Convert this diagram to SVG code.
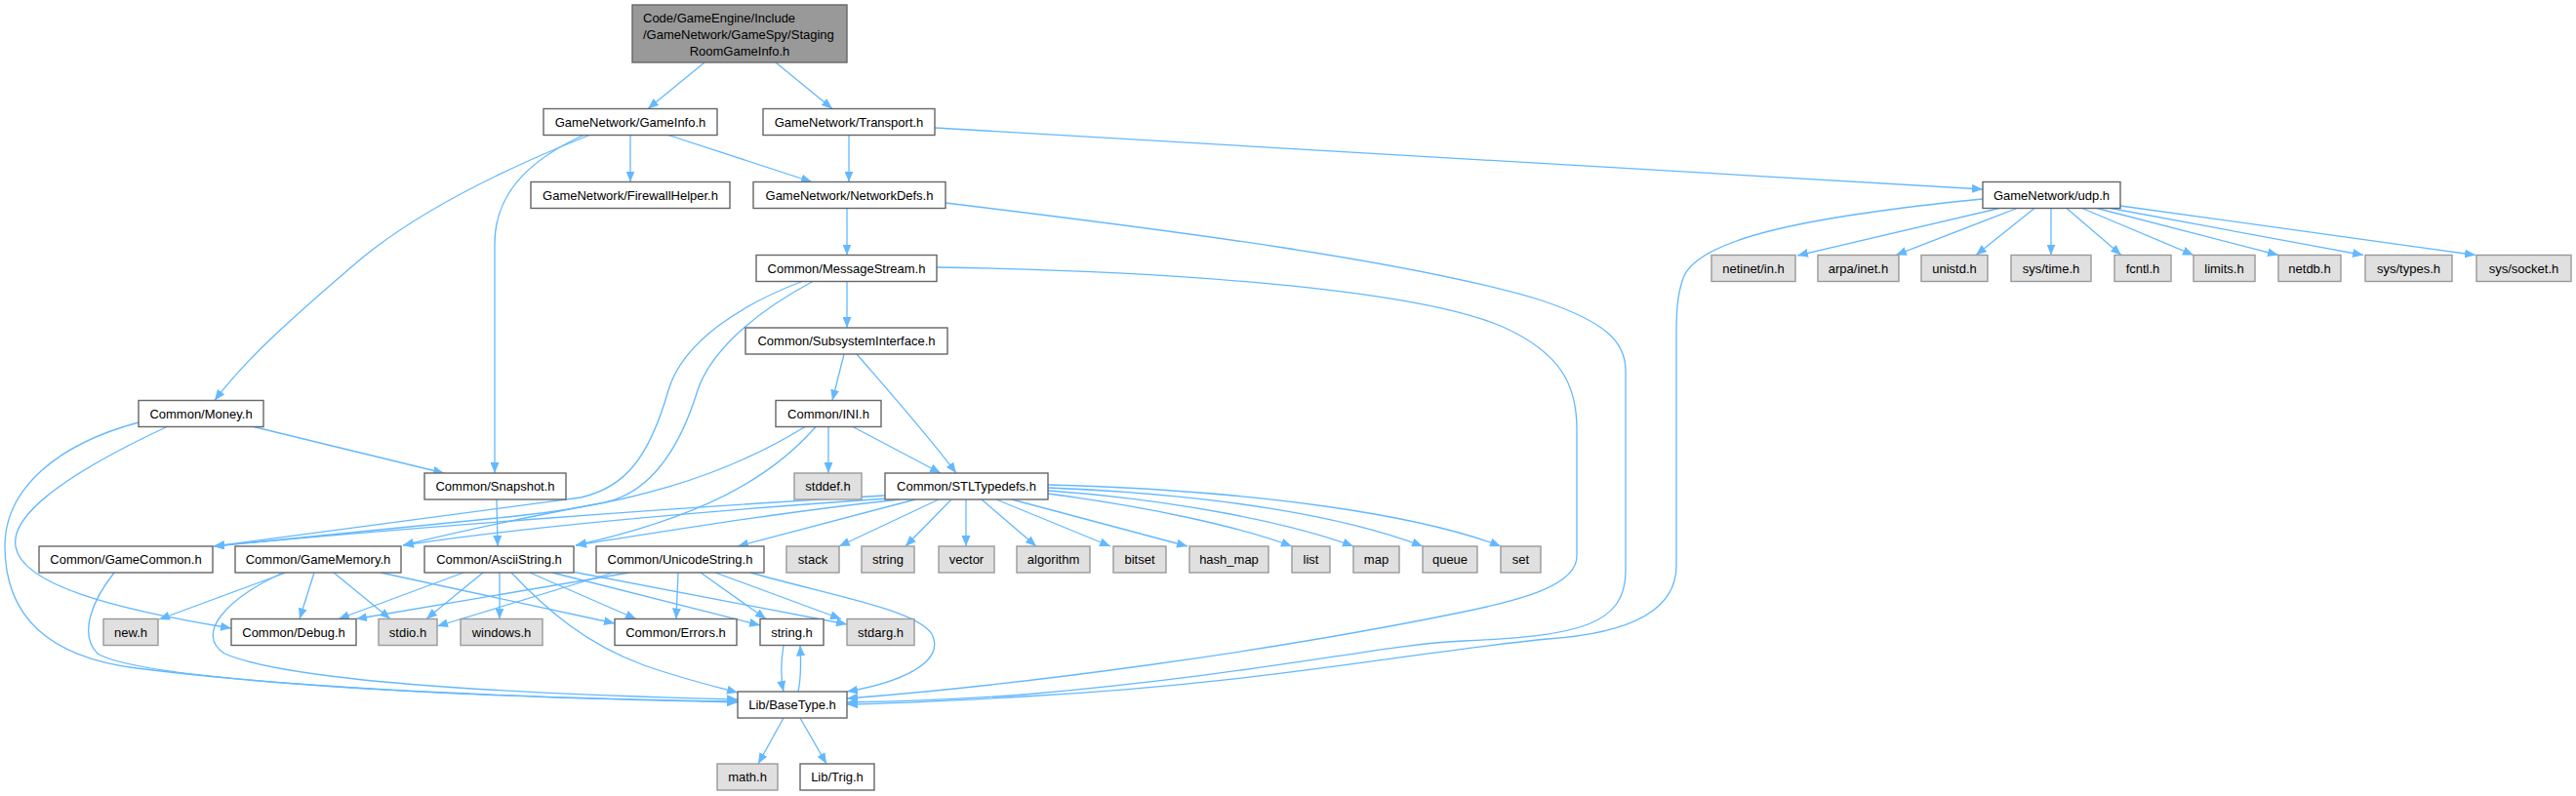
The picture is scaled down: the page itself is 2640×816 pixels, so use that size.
<svg xmlns="http://www.w3.org/2000/svg" width="2640" height="816" viewBox="0 0 2640 816">
<style>
.e{fill:none;stroke:#63b8ff;stroke-width:1.3;marker-end:url(#ah)}
.n rect{fill:#ffffff;stroke:#666666;stroke-width:1.4}
.s rect{fill:#e0e0e0;stroke:#999999;stroke-width:1.4}
.r rect{fill:#999999;stroke:#666666;stroke-width:1.4}
text{font-family:"Liberation Sans",Arial,sans-serif;font-size:13px;fill:#000000;text-anchor:middle}
</style>
<defs>
<marker id="ah" markerUnits="userSpaceOnUse" markerWidth="11" markerHeight="9" viewBox="0 0 11 9" refX="11" refY="4.5" orient="auto">
<path d="M0,0 L11,4.5 L0,9 z" fill="#63b8ff"/>
</marker>
</defs>
<rect width="2640" height="816" fill="#ffffff"/>
<g id="edges">
<path class="e" d="M722,64 L664,111.5"/>
<path class="e" d="M795,64 L853,111.5"/>
<path class="e" d="M646,138.5 L646,186.5"/>
<path class="e" d="M685,138.5 L832,186.5"/>
<path class="e" d="M604,138.5 C520,172 430,215 368,267 C300,325 250,370 220,410.5"/>
<path class="e" d="M598,138.5 C540,165 507,200 507,250 L507,485"/>
<path class="e" d="M870,138.5 L870,186.5"/>
<path class="e" d="M958,131 L2032,194"/>
<path class="e" d="M868,213.5 L868,261.5"/>
<path class="e" d="M969,208 C1200,236 1450,268 1580,308 C1645,330 1666,350 1666,380 L1666,585 C1666,640 1620,652 1500,657 C1420,660 1300,690 1050,712 C980,717 920,719 868,720"/>
<path class="e" d="M960,274 C1200,278 1450,296 1540,335 C1600,362 1616,395 1616,440 L1616,570 C1616,600 1560,615 1496,628 C1300,668 1050,702 868,716"/>
<path class="e" d="M2032,204 C1850,222 1740,245 1725,285 C1718,305 1718,325 1718,345 L1718,580 C1718,630 1660,650 1586,655 C1450,668 1300,700 1050,714 C980,718 920,721 868,722"/>
<path class="e" d="M2049,213.5 L1842,262"/>
<path class="e" d="M2067,213.5 L1943,261.5"/>
<path class="e" d="M2085,213.5 L2025,261.5"/>
<path class="e" d="M2102,213.5 L2102,261.5"/>
<path class="e" d="M2118,213.5 L2174,261.5"/>
<path class="e" d="M2134,213.5 L2248,261.5"/>
<path class="e" d="M2149,213.5 L2335,261.5"/>
<path class="e" d="M2163,213.5 L2422,261.5"/>
<path class="e" d="M2173,211 L2537,261.5"/>
<path class="e" d="M868,288.5 L868,336"/>
<path class="e" d="M822,288.5 C760,312 700,350 685,400 C665,470 640,500 595,510 C450,530 300,550 219,560"/>
<path class="e" d="M833,288.5 C770,322 728,362 715,400 C695,465 665,505 620,515 C540,530 470,545 413,559"/>
<path class="e" d="M865,363 L853,410.5"/>
<path class="e" d="M878,363 C910,400 950,445 980,485"/>
<path class="e" d="M849,437.5 L849,485"/>
<path class="e" d="M874,437.5 L964,485"/>
<path class="e" d="M836,437.5 C790,490 720,530 590,559"/>
<path class="e" d="M825,437.5 C740,490 640,518 520,530 C400,542 300,552 219,560"/>
<path class="e" d="M907,508 C700,520 400,542 219,560"/>
<path class="e" d="M910,511 C750,522 550,538 413,559"/>
<path class="e" d="M922,512 C800,525 680,545 590,559"/>
<path class="e" d="M938,512 L756,560"/>
<path class="e" d="M962,512 L860,560"/>
<path class="e" d="M975,512 L928,560"/>
<path class="e" d="M990,512 L990,560"/>
<path class="e" d="M1006,512 L1062,560"/>
<path class="e" d="M1021,512 L1138,560"/>
<path class="e" d="M1037,512 L1217,560"/>
<path class="e" d="M1074,506 C1180,520 1270,540 1324,560"/>
<path class="e" d="M1074,503 C1200,512 1320,535 1387,560"/>
<path class="e" d="M1074,500 C1250,507 1380,530 1458,560"/>
<path class="e" d="M1074,497 C1300,503 1460,530 1538,560"/>
<path class="e" d="M509,512 L510,560"/>
<path class="e" d="M260,437.5 L455,485"/>
<path class="e" d="M171,437.5 C80,480 10,525 16,560 C22,600 120,625 237,644"/>
<path class="e" d="M142,433 C60,455 5,500 5,560 C5,640 60,675 140,685 C300,705 500,715 756,720"/>
<path class="e" d="M117,587 C95,615 80,650 100,670 C150,700 500,715 756,719"/>
<path class="e" d="M290,587 C230,615 200,650 230,670 C300,700 550,712 756,717"/>
<path class="e" d="M293,587 L163,635"/>
<path class="e" d="M322,587 L307,634.5"/>
<path class="e" d="M342,587 L400,634.5"/>
<path class="e" d="M390,587 L630,639"/>
<path class="e" d="M475,587 L347,634.5"/>
<path class="e" d="M495,587 L437,634.5"/>
<path class="e" d="M512,587 L512,634.5"/>
<path class="e" d="M524,587 C560,625 600,660 660,682 C700,696 730,703 756,710"/>
<path class="e" d="M543,587 L652,634.5"/>
<path class="e" d="M566,587 L779,641"/>
<path class="e" d="M586,586 L868,640"/>
<path class="e" d="M695,587 L693,634.5"/>
<path class="e" d="M718,587 L785,634.5"/>
<path class="e" d="M733,587 L862,634.5"/>
<path class="e" d="M769,587 C850,610 940,625 955,650 C970,680 920,700 868,709"/>
<path class="e" d="M645,587 L365,634.5"/>
<path class="e" d="M628,587 L448,642"/>
<path class="e" d="M803,661.5 C800,680 800,695 803,709"/>
<path class="e" d="M818,709 C821,695 821,680 820,661.5"/>
<path class="e" d="M803,736 L777,783"/>
<path class="e" d="M820,736 L847,783"/>
</g>
<g id="root" class="r"><rect x="648" y="5" width="220" height="59"/><text x="659" y="23" style="text-anchor:start">Code/GameEngine/Include</text><text x="659" y="40" style="text-anchor:start">/GameNetwork/GameSpy/Staging</text><text x="758" y="57">RoomGameInfo.h</text></g>
<g id="n_gameinfo" class="n"><rect x="557" y="111.5" width="178" height="27"/><text x="646" y="129.5">GameNetwork/GameInfo.h</text></g>
<g id="n_transport" class="n"><rect x="782" y="111.5" width="176" height="27"/><text x="870" y="129.5">GameNetwork/Transport.h</text></g>
<g id="n_firewall" class="n"><rect x="544" y="186.5" width="204" height="27"/><text x="646" y="204.5">GameNetwork/FirewallHelper.h</text></g>
<g id="n_networkdefs" class="n"><rect x="772" y="186.5" width="197" height="27"/><text x="870.5" y="204.5">GameNetwork/NetworkDefs.h</text></g>
<g id="n_udp" class="n"><rect x="2032" y="186.5" width="141" height="27"/><text x="2102.5" y="204.5">GameNetwork/udp.h</text></g>
<g id="n_messagestream" class="n"><rect x="775" y="261.5" width="185" height="27"/><text x="867.5" y="279.5">Common/MessageStream.h</text></g>
<g id="n_netinet" class="s"><rect x="1754" y="261.5" width="86" height="27"/><text x="1797" y="279.5">netinet/in.h</text></g>
<g id="n_arpa" class="s"><rect x="1863" y="261.5" width="83" height="27"/><text x="1904.5" y="279.5">arpa/inet.h</text></g>
<g id="n_unistd" class="s"><rect x="1969" y="261.5" width="68" height="27"/><text x="2003" y="279.5">unistd.h</text></g>
<g id="n_systime" class="s"><rect x="2061" y="261.5" width="82" height="27"/><text x="2102" y="279.5">sys/time.h</text></g>
<g id="n_fcntl" class="s"><rect x="2167" y="261.5" width="58" height="27"/><text x="2196" y="279.5">fcntl.h</text></g>
<g id="n_limits" class="s"><rect x="2248" y="261.5" width="63" height="27"/><text x="2279.5" y="279.5">limits.h</text></g>
<g id="n_netdb" class="s"><rect x="2335" y="261.5" width="64" height="27"/><text x="2367" y="279.5">netdb.h</text></g>
<g id="n_systypes" class="s"><rect x="2424" y="261.5" width="89" height="27"/><text x="2468.5" y="279.5">sys/types.h</text></g>
<g id="n_syssocket" class="s"><rect x="2538" y="261.5" width="97" height="27"/><text x="2586.5" y="279.5">sys/socket.h</text></g>
<g id="n_subsystem" class="n"><rect x="764" y="336" width="207" height="27"/><text x="867.5" y="354">Common/SubsystemInterface.h</text></g>
<g id="n_money" class="n"><rect x="142" y="410.5" width="128" height="27"/><text x="206" y="428.5">Common/Money.h</text></g>
<g id="n_ini" class="n"><rect x="795" y="410.5" width="108" height="27"/><text x="849" y="428.5">Common/INI.h</text></g>
<g id="n_snapshot" class="n"><rect x="435" y="485" width="145" height="27"/><text x="507.5" y="503">Common/Snapshot.h</text></g>
<g id="n_stddef" class="s"><rect x="814" y="485" width="69" height="27"/><text x="848.5" y="503">stddef.h</text></g>
<g id="n_stl" class="n"><rect x="907" y="485" width="167" height="27"/><text x="990.5" y="503">Common/STLTypedefs.h</text></g>
<g id="n_gamecommon" class="n"><rect x="40" y="560" width="178" height="27"/><text x="129" y="578">Common/GameCommon.h</text></g>
<g id="n_gamememory" class="n"><rect x="241" y="560" width="170" height="27"/><text x="326" y="578">Common/GameMemory.h</text></g>
<g id="n_asciistring" class="n"><rect x="435" y="560" width="153" height="27"/><text x="511.5" y="578">Common/AsciiString.h</text></g>
<g id="n_unicodestring" class="n"><rect x="611" y="560" width="172" height="27"/><text x="697" y="578">Common/UnicodeString.h</text></g>
<g id="n_stack" class="s"><rect x="806" y="560" width="54" height="27"/><text x="833" y="578">stack</text></g>
<g id="n_string" class="s"><rect x="883" y="560" width="54" height="27"/><text x="910" y="578">string</text></g>
<g id="n_vector" class="s"><rect x="962" y="560" width="57" height="27"/><text x="990.5" y="578">vector</text></g>
<g id="n_algorithm" class="s"><rect x="1042" y="560" width="75" height="27"/><text x="1079.5" y="578">algorithm</text></g>
<g id="n_bitset" class="s"><rect x="1141" y="560" width="54" height="27"/><text x="1168" y="578">bitset</text></g>
<g id="n_hashmap" class="s"><rect x="1219" y="560" width="81" height="27"/><text x="1259.5" y="578">hash_map</text></g>
<g id="n_list" class="s"><rect x="1324" y="560" width="39" height="27"/><text x="1343.5" y="578">list</text></g>
<g id="n_map" class="s"><rect x="1387" y="560" width="47" height="27"/><text x="1410.5" y="578">map</text></g>
<g id="n_queue" class="s"><rect x="1458" y="560" width="56" height="27"/><text x="1486" y="578">queue</text></g>
<g id="n_set" class="s"><rect x="1538" y="560" width="41" height="27"/><text x="1558.5" y="578">set</text></g>
<g id="n_new" class="s"><rect x="106" y="634.5" width="56" height="27"/><text x="134" y="652.5">new.h</text></g>
<g id="n_debug" class="n"><rect x="237" y="634.5" width="128" height="27"/><text x="301" y="652.5">Common/Debug.h</text></g>
<g id="n_stdio" class="s"><rect x="388" y="634.5" width="60" height="27"/><text x="418" y="652.5">stdio.h</text></g>
<g id="n_windows" class="s"><rect x="472" y="634.5" width="84" height="27"/><text x="514" y="652.5">windows.h</text></g>
<g id="n_errors" class="n"><rect x="630" y="634.5" width="125" height="27"/><text x="692.5" y="652.5">Common/Errors.h</text></g>
<g id="n_stringh" class="n"><rect x="779" y="634.5" width="65" height="27"/><text x="811.5" y="652.5">string.h</text></g>
<g id="n_stdarg" class="s"><rect x="868" y="634.5" width="69" height="27"/><text x="902.5" y="652.5">stdarg.h</text></g>
<g id="n_basetype" class="n"><rect x="756" y="709" width="112" height="27"/><text x="812" y="727">Lib/BaseType.h</text></g>
<g id="n_math" class="s"><rect x="735" y="783" width="62" height="27"/><text x="766" y="801">math.h</text></g>
<g id="n_trig" class="n"><rect x="820" y="783" width="76" height="27"/><text x="858" y="801">Lib/Trig.h</text></g>
</svg>
